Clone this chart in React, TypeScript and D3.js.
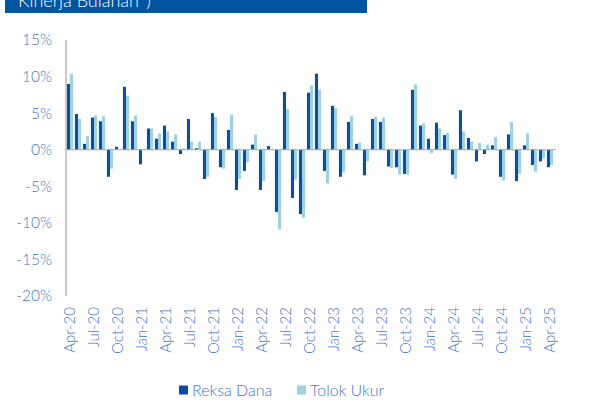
import { useMemo } from 'react';
import * as d3 from 'd3';

const MONTHS = [
  'Apr-20', 'May-20', 'Jun-20', 'Jul-20', 'Aug-20', 'Sep-20', 'Oct-20', 'Nov-20', 'Dec-20',
  'Jan-21', 'Feb-21', 'Mar-21', 'Apr-21', 'May-21', 'Jun-21', 'Jul-21', 'Aug-21', 'Sep-21', 'Oct-21', 'Nov-21', 'Dec-21',
  'Jan-22', 'Feb-22', 'Mar-22', 'Apr-22', 'May-22', 'Jun-22', 'Jul-22', 'Aug-22', 'Sep-22', 'Oct-22', 'Nov-22', 'Dec-22',
  'Jan-23', 'Feb-23', 'Mar-23', 'Apr-23', 'May-23', 'Jun-23', 'Jul-23', 'Aug-23', 'Sep-23', 'Oct-23', 'Nov-23', 'Dec-23',
  'Jan-24', 'Feb-24', 'Mar-24', 'Apr-24', 'May-24', 'Jun-24', 'Jul-24', 'Aug-24', 'Sep-24', 'Oct-24', 'Nov-24', 'Dec-24',
  'Jan-25', 'Feb-25', 'Mar-25', 'Apr-25',
];

// monthly return, %
const REKSA_DANA = [
  9.0, 4.9, 0.8, 4.4, 3.9, -3.7, 0.4, 8.6, 3.9,
  -2.0, 2.9, 1.5, 3.3, 1.1, -0.6, 4.2, 0.2, -4.0, 5.0, -2.4, 2.7,
  -5.5, -2.9, 0.7, -5.5, 0.5, -8.5, 7.9, -6.6, -8.8, 7.8, 10.4, -2.9,
  6.0, -3.7, 3.8, 0.8, -3.5, 4.2, 3.8, -2.3, -2.4, -3.3, 8.2, 3.3,
  1.5, 3.7, 2.0, -3.4, 5.4, 1.6, -1.6, -0.6, 0.6, -3.7, 2.1, -4.3,
  0.6, -2.1, -1.6, -2.4,
];

const TOLOK_UKUR = [
  10.4, 4.2, 1.9, 4.7, 4.6, -2.6, 0.05, 7.4, 4.7,
  0.1, 2.9, 2.2, 2.5, 2.1, 0.2, 1.1, 1.1, -3.7, 4.5, -2.6, 4.8,
  -4.0, -1.7, 2.1, -4.3, 0.05, -10.9, 5.6, -4.1, -9.3, 8.8, 8.2, -4.6,
  5.7, -3.1, 4.6, 1.0, -1.6, 4.5, 4.4, -2.5, -3.4, -3.4, 8.9, 3.6,
  -0.5, 2.9, 2.3, -4.0, 2.5, 1.1, 0.9, 0.7, 1.7, -4.2, 3.8, -3.3,
  2.2, -3.0, -1.2, -2.1,
];

const Y_TICKS = [15, 10, 5, 0, -5, -10, -15, -20];

const SERIES = [
  { name: 'Reksa Dana', values: REKSA_DANA, color: '#0b4e9b' },
  { name: 'Tolok Ukur', values: TOLOK_UKUR, color: '#9fd2e0' },
];

const W = 592;
const H = 400;
const FONT = 'Lato, "Open Sans", sans-serif';
const TEXT = '#3f77bf';

export default function App() {
  const x = useMemo(() => d3.scaleBand<string>().domain(MONTHS).range([66, 554]).paddingInner(0).paddingOuter(0), []);
  const y = useMemo(() => d3.scaleLinear().domain([-20, 15]).range([296, 40]), []);
  const sub = useMemo(
    () => d3.scaleBand<string>().domain(SERIES.map(s => s.name)).range([0, x.bandwidth()]).paddingInner(0).paddingOuter(0.3),
    [x]
  );

  return (
    <svg width={W} height={H} style={{ position: 'absolute', left: 0, top: 0, background: '#fff' }} fontFamily={FONT} fontWeight={300}>
      {/* title bar, cut at the top */}
      <rect x={5} y={0} width={362} height={13} fill="#0054a0" />
      <text x={18} y={7} fill="#fff" fontSize={18}>Kinerja Bulanan*)</text>

      {Y_TICKS.map(t => (
        <text key={t} x={52} y={y(t)} dy="0.35em" textAnchor="end" fill={TEXT} fontSize={15.5}>
          {t}%
        </text>
      ))}

      {SERIES.map(s => (
        <g key={s.name}>
          {s.values.map((v, i) => (
            <rect
              key={i}
              x={(x(MONTHS[i]) ?? 0) + (sub(s.name) ?? 0)}
              y={y(Math.max(0, v))}
              width={sub.bandwidth()}
              height={Math.abs(y(v) - y(0))}
              fill={s.color}
            />
          ))}
        </g>
      ))}

      <line x1={66} x2={556} y1={y(0)} y2={y(0)} stroke="#a6a6a6" strokeWidth={1} />
      <line x1={66} x2={66} y1={y(15)} y2={y(-20)} stroke="#a6a6a6" strokeWidth={1.2} />

      {MONTHS.map((m, i) =>
        i % 3 === 0 ? (
          <text
            key={m}
            transform={`translate(${(x(m) ?? 0) + x.bandwidth() / 2},307) rotate(-90)`}
            dy="0.35em"
            textAnchor="end"
            fill={TEXT}
            fontSize={15}
          >
            {m}
          </text>
        ) : null
      )}

      {SERIES.map((s, i) => (
        <g key={s.name} transform={`translate(${i === 0 ? 179 : 297},390)`}>
          <rect x={0} y={-4.5} width={9} height={9} fill={s.color} />
          <text x={13} dy="0.35em" fill={TEXT} fontSize={16}>{s.name}</text>
        </g>
      ))}
    </svg>
  );
}
